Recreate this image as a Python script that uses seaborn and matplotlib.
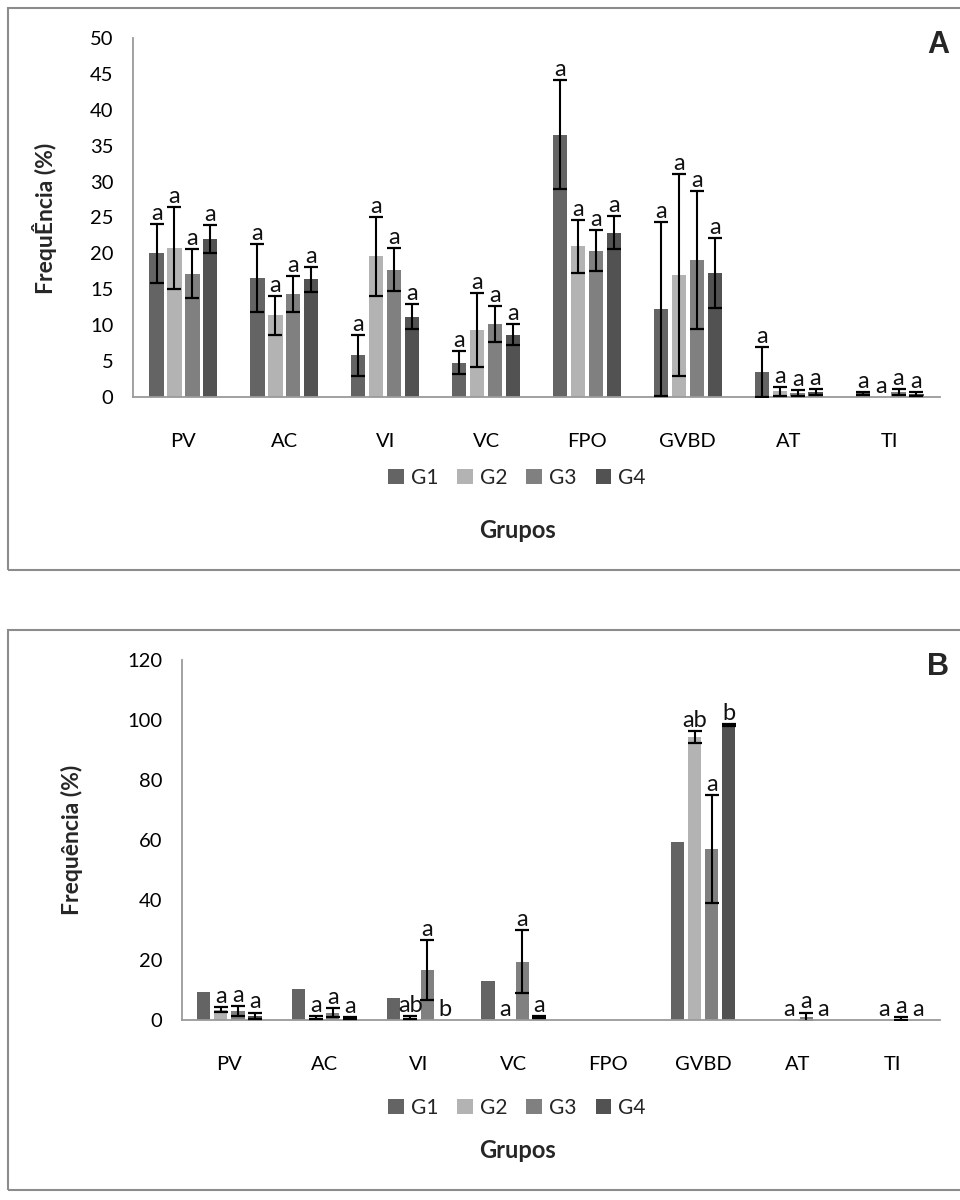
"""Two-panel grouped bar chart (frequency per stage, groups G1-G4) with SD bars and letters."""
import numpy as np
import pandas as pd
import seaborn as sns
import matplotlib.pyplot as plt
from matplotlib.patches import Rectangle

STAGES = ['PV', 'AC', 'VI', 'VC', 'FPO', 'GVBD', 'AT', 'TI']
GROUPS = ['G1', 'G2', 'G3', 'G4']
COLORS = ['#646464', '#b3b3b3', '#808080', '#525252']

# Panel A: mean (%) per stage, one list per group
A_G1 = [20.0, 16.6, 5.8, 4.8, 36.5, 12.3, 3.5, 0.5]
A_G2 = [20.8, 11.4, 19.6, 9.35, 21.0, 17.0, 0.8, 0.0]
A_G3 = [17.2, 14.3, 17.7, 10.2, 20.4, 19.1, 0.6, 0.7]
A_G4 = [22.0, 16.4, 11.2, 8.7, 22.9, 17.3, 0.7, 0.4]
A_ERR_G1 = [4.1, 4.7, 2.9, 1.6, 7.6, 12.1, 3.5, 0.2]
A_ERR_G2 = [5.7, 2.7, 5.5, 5.2, 3.7, 14.1, 0.6, 0.0]
A_ERR_G3 = [3.4, 2.5, 3.0, 2.5, 2.9, 9.6, 0.4, 0.4]
A_ERR_G4 = [2.0, 1.75, 1.7, 1.4, 2.25, 4.85, 0.4, 0.3]
A_LET_G1 = ['a'] * 8
A_LET_G2 = ['a'] * 8
A_LET_G3 = ['a'] * 8
A_LET_G4 = ['a'] * 8

# Panel B
B_G1 = [9.3, 10.5, 7.5, 13.0, 0.0, 59.2, 0.0, 0.0]
B_G2 = [3.5, 0.8, 0.8, 0.0, 0.0, 94.4, 0.0, 0.0]
B_G3 = [3.0, 2.5, 16.8, 19.5, 0.0, 57.0, 1.0, 0.5]
B_G4 = [1.5, 0.8, 0.0, 1.0, 0.0, 98.3, 0.0, 0.0]
B_ERR_G1 = [0, 0, 0, 0, 0, 0, 0, 0]
B_ERR_G2 = [0.8, 0.5, 0.6, 0, 0, 1.9, 0, 0]
B_ERR_G3 = [1.8, 1.5, 10.0, 10.5, 0, 18.0, 1.5, 0.4]
B_ERR_G4 = [1.0, 0.3, 0, 0.3, 0, 0.3, 0, 0]
B_LET_G1 = ['', '', '', '', '', '', '', '']
B_LET_G2 = ['a', 'a', 'ab', 'a', '', 'ab', 'a', 'a']
B_LET_G3 = ['a', 'a', 'a', 'a', '', 'a', 'a', 'a']
B_LET_G4 = ['a', 'a', 'b', 'a', '', 'b', 'a', 'a']

sns.set_style('white')
plt.rcParams['font.family'] = ['Lato', 'DejaVu Sans']

FS = 14.5
GRAY = '#9a9a9a'


def long_frame(series):
    rows = []
    for g, vals in zip(GROUPS, series):
        for s, v in zip(STAGES, vals):
            rows.append({'stage': s, 'group': g, 'value': v})
    return pd.DataFrame(rows)


def draw_panel(fig, rect, series, errs, letters, ymax, ystep, ylabel,
               ylabel_xy, legend_xy, grupos_xy, tag_xy, width, gap):
    ax = fig.add_axes(rect)
    df = long_frame(series)
    sns.barplot(data=df, x='stage', y='value', hue='group', order=STAGES,
                hue_order=GROUPS, palette=COLORS, width=width, gap=gap,
                errorbar=None, linewidth=0, ax=ax)
    for cont, err, lets in zip(ax.containers, errs, letters):
        for bar, e, lt in zip(cont, err, lets):
            xc = bar.get_x() + bar.get_width() / 2
            h = bar.get_height()
            if e > 0:
                ax.errorbar(xc, h, yerr=e, fmt='none', ecolor='black',
                            elinewidth=1.5, capsize=5, capthick=1.6, zorder=3)
            if lt:
                ax.text(xc, h + e, lt, ha='center', va='bottom',
                        fontsize=17, color='#111111', zorder=4)
    ax.set_ylim(0, ymax)
    ax.set_xlim(-0.5, len(STAGES) - 0.5)
    ax.set_yticks(np.arange(0, ymax + 1, ystep))
    ax.tick_params(axis='both', length=0, labelsize=FS, colors='black')
    ax.tick_params(axis='x', pad=26)
    ax.tick_params(axis='y', pad=14)
    for side in ['top', 'right']:
        ax.spines[side].set_visible(False)
    for side in ['left', 'bottom']:
        ax.spines[side].set_color(GRAY)
        ax.spines[side].set_linewidth(1.3)
    ax.set_xlabel('')
    ax.set_ylabel('')
    handles, labels = ax.get_legend_handles_labels()
    ax.legend(handles, labels, loc='center', bbox_to_anchor=legend_xy,
              bbox_transform=fig.transFigure, ncol=4, frameon=False,
              fontsize=FS + 0.5, handlelength=0.75, handleheight=0.75,
              handletextpad=0.35, columnspacing=0.9)
    fig.text(ylabel_xy[0], ylabel_xy[1], ylabel, rotation=90, ha='center',
             va='center', fontsize=16.5, fontweight='bold')
    fig.text(grupos_xy[0], grupos_xy[1], 'Grupos', ha='center', va='center',
             fontsize=17, fontweight='bold')
    fig.text(tag_xy[0], tag_xy[1], tag_xy[2], ha='center', va='center',
             fontsize=22, fontweight='bold', family='Liberation Sans')
    return ax


fig = plt.figure(figsize=(9.6, 12), dpi=100)

# chart-area frames
fig.patches.append(Rectangle((8 / 960, 1 - 570 / 1200), 1.0, 562 / 1200,
                             transform=fig.transFigure, fill=False,
                             edgecolor='#8c8c8c', linewidth=1.5))
fig.patches.append(Rectangle((8 / 960, 1 - 1190 / 1200), 1.0, 560 / 1200,
                             transform=fig.transFigure, fill=False,
                             edgecolor='#8c8c8c', linewidth=1.5))

draw_panel(fig, [133 / 960, 1 - 397 / 1200, 807 / 960, 359 / 1200],
           [A_G1, A_G2, A_G3, A_G4],
           [A_ERR_G1, A_ERR_G2, A_ERR_G3, A_ERR_G4],
           [A_LET_G1, A_LET_G2, A_LET_G3, A_LET_G4],
           50, 5, 'FrequÊncia (%)',
           (45 / 960, 1 - 218 / 1200), (517 / 960, 1 - 478 / 1200),
           (518 / 960, 1 - 530 / 1200), (938 / 960, 1 - 45 / 1200, 'A'),
           width=0.71, gap=0.2)

draw_panel(fig, [182 / 960, 1 - 1020 / 1200, 758 / 960, 360 / 1200],
           [B_G1, B_G2, B_G3, B_G4],
           [B_ERR_G1, B_ERR_G2, B_ERR_G3, B_ERR_G4],
           [B_LET_G1, B_LET_G2, B_LET_G3, B_LET_G4],
           120, 20, 'Frequência (%)',
           (72 / 960, 1 - 840 / 1200), (517 / 960, 1 - 1108 / 1200),
           (518 / 960, 1 - 1150 / 1200), (938 / 960, 1 - 667 / 1200, 'B'),
           width=0.72, gap=0.22)

fig.savefig('out.png', dpi=100)
plt.close(fig)
